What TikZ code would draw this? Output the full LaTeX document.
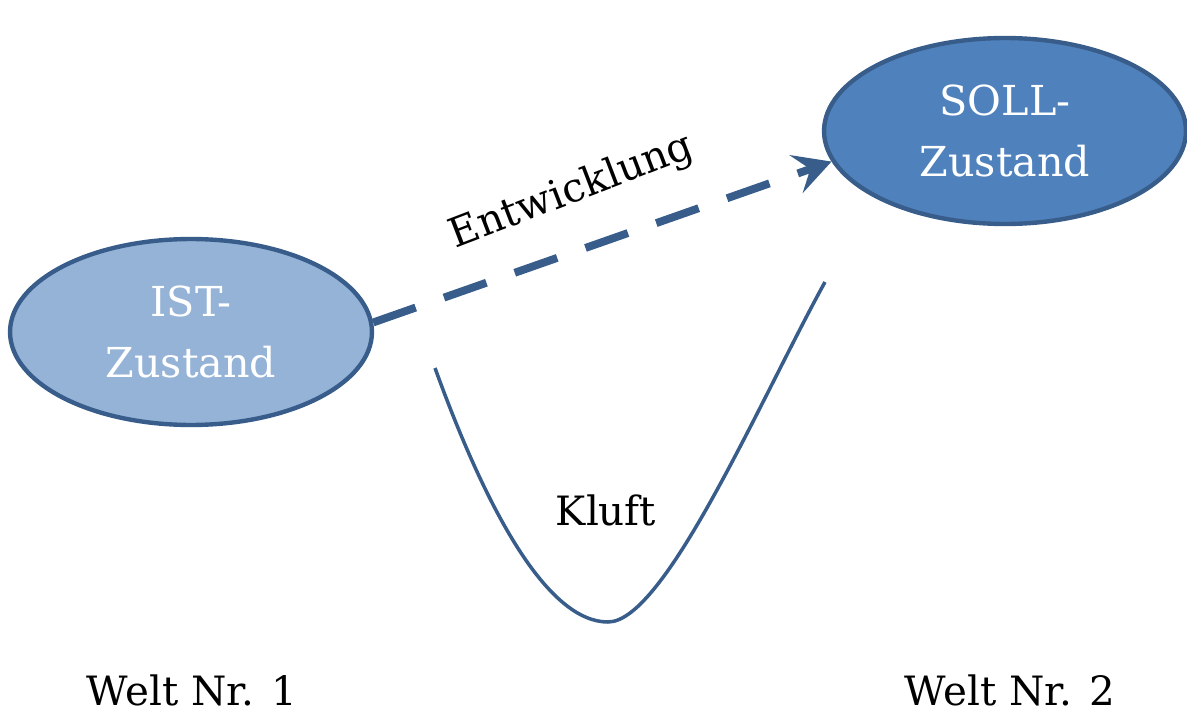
\documentclass[tikz,border=0pt]{standalone}
\usepackage{fontspec}
\setmainfont{DejaVu Serif}
\usetikzlibrary{shapes.geometric,arrows.meta}

\definecolor{rand}{HTML}{385D8A}
\definecolor{hellblau}{HTML}{95B3D7}
\definecolor{dunkelblau}{HTML}{4F81BD}

\tikzset{
    zustand/.style={ellipse, draw=rand, line width=2.5pt, inner sep=0pt,
        minimum width=7.24cm, minimum height=3.72cm, text=white,
        align=center, font=\fontsize{23.5}{35}\selectfont},
    beschriftung/.style={inner sep=1pt, font=\fontsize{23}{28}\selectfont}
}

\begin{document}
\begin{tikzpicture}[x=0.02cm, y=-0.02cm]
    \useasboundingbox (0,0) rectangle (1187,713);

    % Zustaende
    \node[zustand, fill=hellblau] (ist) at (191,332) {IST-\\Zustand};
    \node[zustand, fill=dunkelblau] (soll) at (1005,131) {SOLL-\\Zustand};

    % Entwicklung
    \draw[rand, line width=4.5pt, dash pattern=on 0.9cm off 0.6cm,
        -{Stealth[length=0.75cm, width=0.8cm, inset=0.3cm]}] (ist.3) -- (soll.190);
    \node[beschriftung, rotate=21] (entw) at (572,192) {Entwicklung};

    % Kluft
    \draw[rand, line width=2pt] (435,368) .. controls (490,520) and (550,622) .. (608,622)
        .. controls (665,622) and (760,400) .. (825,282);
    \node[beschriftung] (kluft) at (606,510) {Kluft};

    % Welten
    \node[beschriftung] (welt1) at (192,690) {Welt Nr. 1};
    \node[beschriftung] (welt2) at (1010,690) {Welt Nr. 2};

\end{tikzpicture}
\end{document}
